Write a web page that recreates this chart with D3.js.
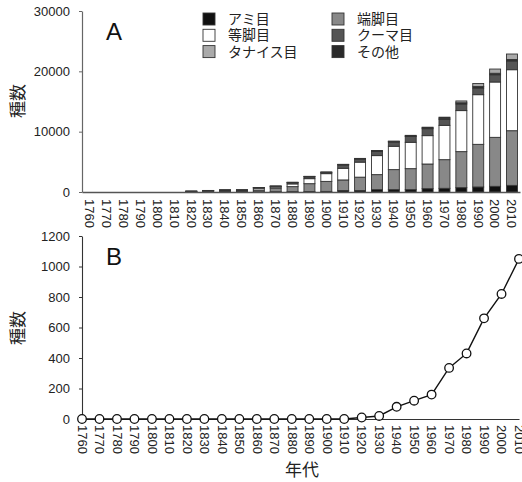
<!DOCTYPE html>
<html>
<head>
<meta charset="utf-8">
<script src="https://cdn.jsdelivr.net/npm/d3@7"></script>
<style>
  body { margin: 0; background: #fff; }
  svg { font-family: "Liberation Sans", Arial, "Noto Sans CJK JP", sans-serif; }
  .axis text { font-size: 13px; fill: #222; }
  .jp { font-family: "Noto Sans CJK JP", sans-serif; fill: #222; }
</style>
</head>
<body>
<svg id="chart" width="522" height="482"></svg>
<script>
// decades on the x axis
const decades = ["1760","1770","1780","1790","1800","1810","1820","1830","1840","1850",
  "1860","1870","1880","1890","1900","1910","1920","1930","1940","1950",
  "1960","1970","1980","1990","2000","2010"];

// panel A: species per order (stacked)
const mysida    = [0,0,0,0,0,0, 10,20,30,30, 30,50,60,80,100, 250,250,390,390,390, 550,610,720,830,940,1100];
const amphipoda = [0,0,0,0,0,0, 60,120,170,170, 300,600,830,1300,1660, 1750,2210,2490,3320,3480, 4090,4750,5970,7070,8120,9060];
const isopoda   = [0,0,0,0,0,0, 50,80,100,110, 300,200,450,830,1280, 1930,2490,3150,3870,4370, 4700,5690,6800,8230,9170,10110];
const cumacea   = [0,0,0,0,0,0, 10,20,30,30, 80,100,200,300,200, 550,500,700,700,950, 1150,1000,1100,1100,1200,1450];
const others    = [0,0,0,0,0,0, 5,10,10,10, 20,20,50,60,50, 80,80,100,100,120, 150,200,200,250,250,250];
const tanaidacea= [0,0,0,0,0,0, 5,10,10,10, 20,30,30,30,30, 30,40,50,60,80, 100,150,300,500,700,900];

// legend (column-major order as drawn)
const legendItems = [
  { key: "mysida",     label: "アミ目",     color: "#111" },
  { key: "isopoda",    label: "等脚目",     color: "#fff" },
  { key: "tanaidacea", label: "タナイス目", color: "#aaa" },
  { key: "amphipoda",  label: "端脚目",     color: "#888" },
  { key: "cumacea",    label: "クーマ目",   color: "#555" },
  { key: "others",     label: "その他",     color: "#2a2a2a" }
];
// stacking order bottom -> top
const stackKeys = ["mysida","amphipoda","isopoda","cumacea","others","tanaidacea"];

// panel B: line series
const seriesB = [0,0,0,0,0,0, 0,0,0,0, 0,0,0,0,0, 0,10,20,80,120, 160,335,430,660,820,1050];

const yTicksA = [0,10000,20000,30000];
const yTicksB = [0,200,400,600,800,1000,1200];

const svg = d3.select("#chart");
const colorOf = Object.fromEntries(legendItems.map(d => [d.key, d.color]));

/* ---------- Panel A ---------- */
const rows = decades.map((d, i) => ({
  decade: d, mysida: mysida[i], amphipoda: amphipoda[i], isopoda: isopoda[i],
  cumacea: cumacea[i], others: others[i], tanaidacea: tanaidacea[i]
}));

const xA = d3.scaleBand().domain(decades).range([82, 520])
  .paddingInner(0.35).paddingOuter(0.15);
const yA = d3.scaleLinear().domain([0, 30000]).range([192, 11]);

const stacked = d3.stack().keys(stackKeys)(rows);

svg.append("g").selectAll("g")
  .data(stacked)
  .join("g")
  .attr("fill", d => colorOf[d.key])
  .selectAll("rect")
  .data(d => d.filter(s => s[1] > s[0]))
  .join("rect")
  .attr("x", d => xA(d.data.decade))
  .attr("width", xA.bandwidth())
  .attr("y", d => yA(d[1]))
  .attr("height", d => yA(d[0]) - yA(d[1]))
  .attr("stroke", "#333")
  .attr("stroke-width", 0.9);

const axA = svg.append("g").attr("class", "axis")
  .attr("transform", "translate(82,0)")
  .call(d3.axisLeft(yA).tickValues(yTicksA).tickFormat(d3.format("d"))
    .tickSize(3).tickSizeOuter(0).tickPadding(9));
axA.select(".domain").attr("stroke", "#666").attr("stroke-width", 1.2);
axA.selectAll(".tick line").attr("stroke", "#666");

const axAx = svg.append("g").attr("class", "axis")
  .attr("transform", "translate(0,192)")
  .call(d3.axisBottom(xA).tickSize(0).tickSizeOuter(0));
axAx.select(".domain").attr("stroke", "#555").attr("stroke-width", 1.5);
axAx.selectAll("text")
  .attr("transform", "rotate(90)")
  .attr("x", 7).attr("y", 0).attr("dy", "0.36em")
  .style("text-anchor", "start");

svg.append("text").attr("x", 106).attr("y", 40)
  .style("font-size", "24px").style("fill", "#111").text("A");

svg.append("text").attr("class", "jp")
  .attr("transform", "translate(24,101) rotate(-90)")
  .attr("text-anchor", "middle").style("font-size", "17px").text("種数");

// legend
const leg = svg.append("g").selectAll("g")
  .data(legendItems)
  .join("g")
  .attr("transform", (d, i) => `translate(${i < 3 ? 203 : 332},${13 + (i % 3) * 16.3})`);
leg.append("rect").attr("width", 12).attr("height", 12)
  .attr("fill", d => d.color).attr("stroke", "#333").attr("stroke-width", 0.9);
leg.append("text").attr("class", "jp")
  .attr("x", 25).attr("y", 11)
  .style("font-size", "14px").text(d => d.label);

/* ---------- Panel B ---------- */
const xB = d3.scalePoint().domain(decades).range([82, 519]);
const yB = d3.scaleLinear().domain([0, 1200]).range([419, 236]);
const pts = decades.map((d, i) => ({ decade: d, v: seriesB[i] }));

const axB = svg.append("g").attr("class", "axis")
  .attr("transform", "translate(82,0)")
  .call(d3.axisLeft(yB).tickValues(yTicksB).tickFormat(d3.format("d"))
    .tickSize(3).tickSizeOuter(0).tickPadding(9));
axB.select(".domain").attr("stroke", "#333").attr("stroke-width", 1.1);
axB.selectAll(".tick line").attr("stroke", "#333");

const axBx = svg.append("g").attr("class", "axis")
  .attr("transform", "translate(0,419)")
  .call(d3.axisBottom(xB).tickSize(0).tickSizeOuter(0));
axBx.select(".domain").attr("stroke", "#333").attr("stroke-width", 1.1);
axBx.selectAll("text")
  .attr("transform", "rotate(90)")
  .attr("x", 6).attr("y", 0).attr("dy", "0.36em")
  .style("text-anchor", "start");

const lineGen = d3.line().x(d => xB(d.decade)).y(d => yB(d.v));
svg.append("path").datum(pts)
  .attr("d", lineGen).attr("fill", "none")
  .attr("stroke", "#111").attr("stroke-width", 1.4);

svg.append("g").selectAll("circle")
  .data(pts)
  .join("circle")
  .attr("cx", d => xB(d.decade)).attr("cy", d => yB(d.v))
  .attr("r", 4.3)
  .attr("fill", "#fff").attr("stroke", "#111").attr("stroke-width", 1.3);

svg.append("text").attr("x", 106).attr("y", 265)
  .style("font-size", "24px").style("fill", "#111").text("B");

svg.append("text").attr("class", "jp")
  .attr("transform", "translate(24,328) rotate(-90)")
  .attr("text-anchor", "middle").style("font-size", "17px").text("種数");

svg.append("text").attr("class", "jp")
  .attr("x", 302).attr("y", 476)
  .attr("text-anchor", "middle").style("font-size", "17px").text("年代");
</script>
</body>
</html>
